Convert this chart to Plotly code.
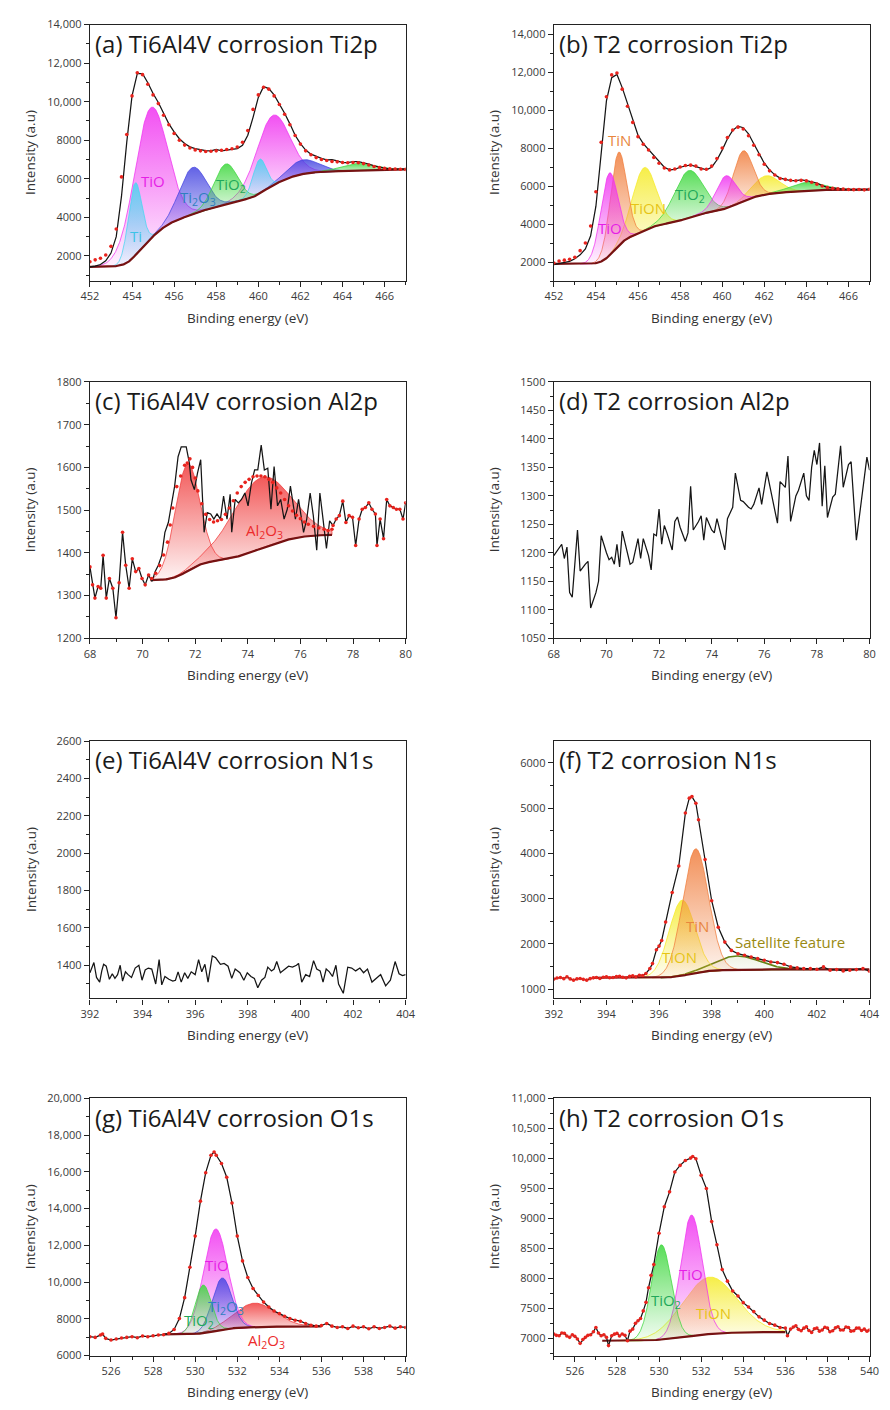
import numpy as np
import plotly.graph_objects as go

# ======================= DATA =======================
# ---- (a) Ti6Al4V corrosion Ti2p ----
A_X = np.linspace(452.0, 467.0, 61)
A_LINE = [1440, 1470, 1560, 1750, 2150, 3000, 5100, 7900, 10300, 11450,
          11450, 10980, 10420, 9960, 9400, 8850, 8430, 8080, 7830, 7660,
          7570, 7520, 7460, 7450, 7520, 7450, 7490, 7520, 7570, 7740,
          8260, 9190, 10220, 10780, 10680, 10350, 9880, 9400, 8850, 8260,
          7830, 7490, 7280, 7150, 7060, 6980, 6990, 6930, 6840, 6840,
          6890, 6890, 6840, 6770, 6670, 6600, 6550, 6520, 6520, 6500,
          6500]
A_DOTS = [1700, 1800, 1880, 2050, 2500, 3400, 6100, 8300, 10300, 11500,
          11400, 10900, 10350, 9900, 9300, 8800, 8350, 8000, 7750, 7600,
          7500, 7450, 7420, 7430, 7450, 7480, 7520, 7560, 7650, 7900,
          8500, 9600, 10350, 10750, 10650, 10300, 9850, 9350, 8800, 8250,
          7800, 7450, 7250, 7100, 7000, 6950, 6900, 6880, 6850, 6830,
          6850, 6830, 6790, 6720, 6640, 6580, 6540, 6520, 6510, 6500,
          6490]
# component: (species, centre eV, peak-top intensity, FWHM eV)
A_PEAKS = [("TiO", 454.87, 9670, 1.85), ("TiO", 460.68, 9280, 1.85),
           ("Ti2O3", 456.88, 6590, 1.5), ("Ti2O3", 462.1, 6980, 1.7),
           ("TiO2", 458.45, 6770, 1.3), ("TiO2", 464.7, 6800, 1.8),
           ("Ti", 454.14, 5780, 0.75), ("Ti", 460.06, 7010, 0.75)]
A_BG_ENDS = (1440, 6490)
A_LABELS = [("TiO", 455.0, 5870, "TiO"), ("Ti", 454.17, 3060, "Ti"),
            ("Ti2O3", 457.12, 5017, "Ti<sub>2</sub>O<sub>3</sub>"),
            ("TiO2", 458.7, 5700, "TiO<sub>2</sub>")]

# ---- (b) T2 corrosion Ti2p ----
B_X = np.linspace(452.0, 467.0, 61)
B_LINE = [1860, 1910, 1965, 2035, 2170, 2380, 2690, 3380, 4940, 7890,
          10480, 11700, 11870, 11180, 10310, 9450, 8670, 8230, 7920, 7580,
          7280, 6990, 6850, 6880, 6990, 7060, 7110, 7020, 6940, 6850,
          6990, 7370, 7890, 8490, 8930, 9150, 9070, 8750, 8230, 7710,
          7200, 6850, 6590, 6420, 6360, 6290, 6290, 6330, 6290, 6240,
          6160, 6020, 5930, 5900, 5860, 5840, 5830, 5810, 5830, 5810,
          5840]
B_DOTS = [1950, 2050, 2100, 2150, 2250, 2600, 3000, 3900, 5700, 8300,
          10700, 11850, 11950, 11100, 10200, 9350, 8600, 8200, 7900, 7500,
          7200, 6950, 6850, 6900, 7000, 7080, 7100, 7050, 6900, 6880,
          7050, 7450, 8000, 8550, 8950, 9100, 9000, 8650, 8150, 7650,
          7150, 6800, 6580, 6400, 6350, 6300, 6280, 6300, 6270, 6200,
          6100, 6000, 5920, 5880, 5850, 5840, 5820, 5810, 5820, 5800,
          5830]
B_PEAKS = [("TiON", 456.29, 6970, 1.3), ("TiON", 462.07, 6540, 1.5),
           ("TiO2", 458.4, 6810, 1.6), ("TiO2", 464.0, 6190, 1.8),
           ("TiN", 455.07, 7770, 0.9), ("TiN", 460.99, 7850, 1.1),
           ("TiO", 454.63, 6675, 0.95), ("TiO", 460.17, 6540, 1.1)]
B_BG_ENDS = (1900, 5810)
B_LABELS = [("TiN", 455.1, 8400, "TiN"), ("TiON", 456.5, 4860, "TiON"),
            ("TiO2", 458.46, 5550, "TiO<sub>2</sub>"), ("TiO", 454.68, 3770, "TiO")]

# ---- (c) Ti6Al4V corrosion Al2p ----
C_X = [68.0, 68.1, 68.19, 68.31, 68.41, 68.5, 68.62, 68.74, 68.87, 68.99,
       69.11, 69.24, 69.36, 69.49, 69.61, 69.74, 69.86, 69.98, 70.1, 70.23,
       70.36, 70.48, 70.6, 70.73, 70.85, 70.98, 71.1, 71.22, 71.35, 71.47,
       71.66, 71.78, 71.84, 71.97, 72.09, 72.21, 72.34, 72.46, 72.59, 72.71,
       72.83, 72.96, 73.08, 73.21, 73.33, 73.39, 73.52, 73.64, 73.76, 73.89,
       74.01, 74.14, 74.26, 74.38, 74.51, 74.63, 74.76, 74.88, 75.0, 75.13,
       75.25, 75.38, 75.5, 75.62, 75.81, 75.93, 76.12, 76.24, 76.37, 76.49,
       76.62, 76.74, 76.86, 76.99, 77.11, 77.24, 77.36, 77.48, 77.61, 77.73,
       77.85, 77.98, 78.1, 78.23, 78.35, 78.47, 78.6, 78.72, 78.85, 78.91,
       79.03, 79.16, 79.28, 79.4, 79.53, 79.65, 79.78, 79.9, 80.0]
C_LINE = [1367, 1325, 1294, 1321, 1317, 1394, 1294, 1340, 1317, 1248,
          1330, 1448, 1371, 1317, 1386, 1356, 1363, 1340, 1325, 1348,
          1333, 1356, 1371, 1394, 1448, 1471, 1510, 1556, 1625, 1648,
          1648, 1610, 1571, 1548, 1587, 1618, 1448, 1494, 1491, 1479,
          1491, 1479, 1533, 1479, 1537, 1448, 1525, 1517, 1525, 1540,
          1510, 1564, 1594, 1594, 1652, 1594, 1598, 1502, 1602, 1510,
          1525, 1479, 1502, 1556, 1479, 1525, 1448, 1479, 1540, 1487,
          1406, 1540, 1479, 1410, 1475, 1464, 1479, 1487, 1521, 1471,
          1487, 1483, 1417, 1479, 1502, 1506, 1517, 1502, 1491, 1417,
          1479, 1433, 1525, 1510, 1506, 1502, 1502, 1479, 1517]
C_FIT_DOT_X = [70.35, 70.5, 70.65, 70.8, 70.95, 71.05, 71.15, 71.3, 71.45, 71.6,
               71.7, 71.8, 71.9, 72.0, 72.1, 72.25, 72.4, 72.55, 72.7, 72.85,
               73.0, 73.15, 73.3, 73.45, 73.6, 73.75, 73.9, 74.05, 74.2, 74.35,
               74.5, 74.65, 74.8, 74.95, 75.1, 75.25, 75.4, 75.55, 75.7, 75.85,
               76.0, 76.15, 76.3, 76.5, 76.7, 76.9, 77.05, 77.2]
C_FIT_DOT_Y = [1340, 1352, 1370, 1395, 1425, 1465, 1505, 1555, 1580, 1605,
               1610, 1620, 1600, 1575, 1545, 1515, 1490, 1478, 1472, 1475,
               1478, 1490, 1505, 1522, 1540, 1555, 1565, 1572, 1578, 1580,
               1580, 1578, 1572, 1565, 1552, 1540, 1525, 1510, 1498, 1488,
               1480, 1472, 1467, 1462, 1458, 1455, 1452, 1455]
C_FIT_RANGE = (70.3, 77.2)
C_PEAKS = [("Al", 71.7, 1608, 1.1), ("Al2O3", 74.5, 1576, 2.6)]
C_BG_ENDS = (1336, 1442)
C_LABELS = [("Al2O3", 74.63, 1452, "Al<sub>2</sub>O<sub>3</sub>")]

# ---- (d) T2 corrosion Al2p ----
D_X = [68.0, 68.2, 68.3, 68.4, 68.5, 68.6, 68.7, 68.9, 69.0, 69.2,
       69.3, 69.4, 69.6, 69.7, 69.8, 70.0, 70.1, 70.2, 70.3, 70.4,
       70.5, 70.6, 70.8, 70.9, 71.0, 71.2, 71.3, 71.4, 71.6, 71.7,
       71.8, 71.9, 72.0, 72.1, 72.2, 72.3, 72.5, 72.6, 72.7, 72.8,
       73.0, 73.1, 73.2, 73.3, 73.5, 73.6, 73.7, 73.8, 74.0, 74.1,
       74.2, 74.5, 74.6, 74.8, 74.9, 75.1, 75.2, 75.4, 75.5, 75.6,
       75.8, 75.9, 76.1, 76.2, 76.5, 76.6, 76.8, 76.9, 77.0, 77.2,
       77.3, 77.5, 77.6, 77.7, 77.8, 77.9, 78.0, 78.1, 78.2, 78.3,
       78.4, 78.6, 78.7, 78.9, 79.0, 79.2, 79.3, 79.5, 79.7, 79.9,
       80.0]
D_LINE = [1195, 1210, 1215, 1190, 1210, 1130, 1122, 1240, 1168, 1180,
          1185, 1103, 1130, 1150, 1230, 1200, 1188, 1192, 1180, 1215,
          1175, 1238, 1200, 1180, 1183, 1225, 1190, 1225, 1195, 1170,
          1233, 1230, 1277, 1215, 1248, 1235, 1205, 1255, 1263, 1245,
          1220, 1235, 1317, 1240, 1255, 1265, 1222, 1262, 1240, 1235,
          1260, 1205, 1260, 1280, 1340, 1292, 1290, 1280, 1277, 1285,
          1314, 1285, 1342, 1320, 1252, 1325, 1315, 1370, 1255, 1300,
          1310, 1340, 1300, 1292, 1350, 1380, 1355, 1393, 1282, 1353,
          1262, 1298, 1303, 1388, 1315, 1355, 1360, 1222, 1300, 1368,
          1345]

# ---- (e) Ti6Al4V corrosion N1s ----
E_X = [392.0, 392.08, 392.15, 392.25, 392.37, 392.45, 392.52, 392.62, 392.74, 392.85,
       392.95, 393.05, 393.15, 393.24, 393.35, 393.45, 393.58, 393.72, 393.86, 393.98,
       394.1, 394.22, 394.35, 394.5, 394.63, 394.73, 394.85, 395.0, 395.15, 395.25,
       395.35, 395.47, 395.6, 395.72, 395.85, 396.0, 396.13, 396.25, 396.37, 396.49,
       396.65, 396.78, 396.96, 397.1, 397.25, 397.39, 397.52, 397.7, 397.85, 397.98,
       398.12, 398.25, 398.38, 398.52, 398.65, 398.76, 398.9, 399.0, 399.1, 399.24,
       399.4, 399.55, 399.7, 399.85, 399.93, 400.05, 400.2, 400.35, 400.5, 400.62,
       400.75, 400.86, 400.98, 401.1, 401.22, 401.35, 401.45, 401.63, 401.8, 401.95,
       402.1, 402.26, 402.4, 402.55, 402.72, 402.88, 403.05, 403.24, 403.42, 403.6,
       403.75, 403.88, 404.0]
E_LINE = [1360, 1395, 1415, 1335, 1310, 1370, 1405, 1395, 1325, 1355,
          1330, 1350, 1400, 1315, 1365, 1350, 1335, 1385, 1400, 1320,
          1375, 1385, 1380, 1300, 1430, 1295, 1340, 1325, 1315, 1320,
          1365, 1310, 1360, 1330, 1365, 1350, 1430, 1365, 1405, 1310,
          1450, 1440, 1405, 1410, 1395, 1330, 1380, 1360, 1320, 1360,
          1340, 1330, 1280, 1320, 1335, 1390, 1370, 1380, 1420, 1360,
          1380, 1395, 1390, 1400, 1410, 1310, 1350, 1340, 1425, 1380,
          1370, 1310, 1380, 1365, 1340, 1400, 1300, 1250, 1390, 1385,
          1370, 1385, 1360, 1380, 1310, 1330, 1350, 1290, 1320, 1420,
          1355, 1345, 1350]

# ---- (f) T2 corrosion N1s ----
F_X = [392.0, 392.12, 392.25, 392.38, 392.5, 392.62, 392.75, 392.88, 393.0, 393.12,
       393.25, 393.38, 393.5, 393.62, 393.75, 393.88, 394.0, 394.12, 394.25, 394.38,
       394.5, 394.62, 394.75, 394.88, 395.0, 395.12, 395.25, 395.38, 395.5, 395.65,
       395.75, 395.9, 396.0, 396.1, 396.25, 396.5, 396.75, 397.0, 397.15, 397.25,
       397.4, 397.5, 397.75, 398.0, 398.25, 398.5, 398.75, 399.0, 399.25, 399.5,
       399.75, 400.0, 400.25, 400.5, 400.75, 401.0, 401.25, 401.5, 401.75, 402.0,
       402.25, 402.5, 402.75, 403.0, 403.25, 403.5, 403.75, 404.0]
F_LINE = [1220, 1245, 1256, 1230, 1270, 1225, 1197, 1225, 1234, 1215,
          1197, 1230, 1248, 1255, 1234, 1262, 1270, 1250, 1256, 1275,
          1285, 1262, 1248, 1280, 1292, 1270, 1307, 1300, 1344, 1453,
          1563, 1870, 1950, 2075, 2480, 3135, 3720, 4890, 5220, 5254,
          5108, 4743, 3865, 2952, 2367, 2038, 1855, 1782, 1746, 1709,
          1672, 1636, 1599, 1585, 1548, 1490, 1468, 1453, 1453, 1439,
          1490, 1417, 1431, 1402, 1417, 1431, 1453, 1395]
F_PEAKS = [("Sat", 398.95, 1731, 2.0), ("TiON", 396.87, 2966, 1.15),
           ("TiN", 397.39, 4100, 1.15)]
F_BG_ENDS = (1250, 1435)
F_FIT_RANGE = (393.5, 404.0)
F_LABELS = [("TiN", 397.45, 2400, "TiN"), ("TiON", 396.77, 1710, "TiON"),
            ("Sat", 400.96, 2040, "Satellite feature")]

# ---- (g) Ti6Al4V corrosion O1s ----
G_X = [525.0, 525.25, 525.5, 525.6, 525.75, 526.0, 526.25, 526.5, 526.75, 527.0,
       527.25, 527.5, 527.75, 528.0, 528.25, 528.5, 528.75, 529.0, 529.25, 529.5,
       529.75, 530.0, 530.25, 530.5, 530.75, 530.9, 531.0, 531.25, 531.5, 531.75,
       532.0, 532.25, 532.5, 532.75, 533.0, 533.25, 533.5, 533.75, 534.0, 534.25,
       534.5, 534.75, 535.0, 535.25, 535.5, 535.75, 536.0, 536.25, 536.5, 536.75,
       537.0, 537.25, 537.5, 537.75, 538.0, 538.25, 538.5, 538.75, 539.0, 539.25,
       539.5, 539.75, 540.0]
G_LINE = [7023, 6987, 7113, 7167, 6933, 6844, 6897, 6951, 6987, 7023,
          6969, 7059, 7023, 7077, 7113, 7131, 7203, 7418, 8010, 9150,
          10800, 12500, 14400, 15950, 16896, 17075, 16900, 16450, 15700, 14300,
          12500, 11150, 10250, 9650, 9267, 8908, 8639, 8423, 8280, 8136,
          8010, 7921, 7867, 7741, 7651, 7598, 7633, 7741, 7598, 7526,
          7562, 7472, 7598, 7508, 7562, 7454, 7562, 7472, 7526, 7598,
          7490, 7562, 7526]
G_PEAKS = [("Al2O3", 532.83, 8850, 2.3), ("TiO", 530.97, 12890, 1.35),
           ("Ti2O3", 531.28, 10220, 1.1), ("TiO2", 530.38, 9840, 0.9)]
G_BG_ENDS = (7150, 7580)
G_FIT_RANGE = (528.5, 536.0)
G_LABELS = [("TiO", 531.04, 10920, "TiO"), ("Ti2O3", 531.45, 8620, "Ti<sub>2</sub>O<sub>3</sub>"),
            ("TiO2", 530.2, 7860, "TiO<sub>2</sub>"), ("Al2O3", 533.37, 6810, "Al<sub>2</sub>O<sub>3</sub>")]

# ---- (h) T2 corrosion O1s ----
H_X = [525.0, 525.12, 525.25, 525.38, 525.5, 525.62, 525.75, 525.88, 526.0, 526.12,
       526.25, 526.38, 526.5, 526.62, 526.75, 526.88, 527.0, 527.12, 527.25, 527.38,
       527.5, 527.6, 527.75, 527.88, 528.0, 528.12, 528.25, 528.38, 528.5, 528.62,
       528.75, 528.88, 529.0, 529.12, 529.25, 529.38, 529.5, 529.62, 529.75, 530.0,
       530.25, 530.5, 530.75, 531.0, 531.25, 531.5, 531.6, 531.75, 532.0, 532.25,
       532.5, 532.75, 533.0, 533.25, 533.5, 533.75, 534.0, 534.25, 534.5, 534.75,
       535.0, 535.25, 535.5, 535.75, 536.0, 536.1, 536.25, 536.38, 536.5, 536.62,
       536.75, 536.88, 537.0, 537.12, 537.25, 537.38, 537.5, 537.62, 537.75, 537.88,
       538.0, 538.12, 538.25, 538.38, 538.5, 538.62, 538.75, 538.88, 539.0, 539.12,
       539.25, 539.38, 539.5, 539.62, 539.75, 539.88, 540.0]
H_LINE = [7072, 7050, 7044, 7090, 7083, 7040, 7017, 7060, 7033, 6990,
          6917, 6980, 7017, 7050, 7061, 7110, 7182, 7090, 7044, 7060,
          7017, 6879, 7044, 7070, 7083, 7040, 7072, 7050, 6961, 7120,
          7154, 7250, 7292, 7330, 7457, 7600, 7843, 8050, 8229, 8752,
          9193, 9441, 9772, 9882, 9964, 10003, 10031, 9992, 9716, 9496,
          8945, 8559, 8146, 7953, 7788, 7705, 7595, 7523, 7446, 7358,
          7303, 7248, 7220, 7182, 7171, 7044, 7154, 7190, 7209, 7150,
          7127, 7170, 7193, 7130, 7099, 7160, 7171, 7120, 7138, 7185,
          7171, 7110, 7127, 7175, 7193, 7140, 7138, 7190, 7182, 7120,
          7127, 7170, 7171, 7130, 7154, 7120, 7138]
H_PEAKS = [("TiON", 532.4, 8020, 3.0), ("TiO", 531.54, 9055, 1.2),
           ("TiO2", 530.11, 8560, 1.1)]
H_BG_ENDS = (6960, 7105)
H_FIT_RANGE = (527.3, 536.0)
H_LABELS = [("TiO", 531.54, 8075, "TiO"), ("TiO2", 530.32, 7625, "TiO<sub>2</sub>"),
            ("TiON", 532.59, 7415, "TiON")]

# ---- axis ticks ----
TI2P_XTICKS = [452, 454, 456, 458, 460, 462, 464, 466]
AL2P_XTICKS = [68, 70, 72, 74, 76, 78, 80]
N1S_XTICKS = [392, 394, 396, 398, 400, 402, 404]
O1S_XTICKS = [526, 528, 530, 532, 534, 536, 538, 540]
A_YTICKS = [2000, 4000, 6000, 8000, 10000, 12000, 14000]
B_YTICKS = [2000, 4000, 6000, 8000, 10000, 12000, 14000]
C_YTICKS = [1200, 1300, 1400, 1500, 1600, 1700, 1800]
D_YTICKS = [1050, 1100, 1150, 1200, 1250, 1300, 1350, 1400, 1450, 1500]
E_YTICKS = [1400, 1600, 1800, 2000, 2200, 2400, 2600]
F_YTICKS = [1000, 2000, 3000, 4000, 5000, 6000]
G_YTICKS = [6000, 8000, 10000, 12000, 14000, 16000, 18000, 20000]
H_YTICKS = [7000, 7500, 8000, 8500, 9000, 9500, 10000, 10500, 11000]

# ======================= STYLE =======================
FILL_RGB = {"Ti": (70, 215, 240), "TiO": (240, 50, 240), "Ti2O3": (70, 70, 225),
            "TiO2": (60, 215, 60), "TiN": (240, 125, 60), "TiON": (245, 235, 40),
            "Al": (240, 60, 60), "Al2O3": (240, 60, 60), "Sat": (120, 150, 30)}
LABEL_COL = {"Ti": "#3cc3e6", "TiO": "#e61ee6", "Ti2O3": "#2f7fbf", "TiO2": "#22a85a",
             "TiN": "#e8863e", "TiON": "#e6c416", "Al2O3": "#ec2c2c", "Sat": "#9a8a12"}
FONT = "Open Sans"
W, H = 890, 1410
COLS = {"L": (82.7, 405.3), "R": (556.7, 879.3)}
ROWS = [(16.7, 276.0), (378.0, 637.0), (741.0, 1001.0), (1102.0, 1362.0)]

PANELS = [
    dict(t="(a) Ti6Al4V corrosion Ti2p", col="L", row=0, xr=(452, 467), yr=(700, 14000),
         xt=TI2P_XTICKS, yt=A_YTICKS, lx=A_X, ly=A_LINE, dx=A_X, dy=A_DOTS,
         peaks=A_PEAKS, bg=A_BG_ENDS, fr=(452, 467), labels=A_LABELS),
    dict(t="(b) T2 corrosion Ti2p", col="R", row=0, xr=(452, 467), yr=(1000, 14500),
         xt=TI2P_XTICKS, yt=B_YTICKS, lx=B_X, ly=B_LINE, dx=B_X, dy=B_DOTS,
         peaks=B_PEAKS, bg=B_BG_ENDS, fr=(452, 467), labels=B_LABELS),
    dict(t="(c) Ti6Al4V corrosion Al2p", col="L", row=1, xr=(68, 80), yr=(1200, 1800),
         xt=AL2P_XTICKS, yt=C_YTICKS, lx=C_X, ly=C_LINE, dx=None, dy=None,
         peaks=C_PEAKS, bg=C_BG_ENDS, fr=C_FIT_RANGE, labels=C_LABELS),
    dict(t="(d) T2 corrosion Al2p", col="R", row=1, xr=(68, 80), yr=(1050, 1500),
         xt=AL2P_XTICKS, yt=D_YTICKS, lx=D_X, ly=D_LINE, dx=None, dy=None,
         peaks=None, labels=[]),
    dict(t="(e) Ti6Al4V corrosion N1s", col="L", row=2, xr=(392, 404), yr=(1223, 2600),
         xt=N1S_XTICKS, yt=E_YTICKS, lx=E_X, ly=E_LINE, dx=None, dy=None,
         peaks=None, labels=[]),
    dict(t="(f) T2 corrosion N1s", col="R", row=2, xr=(392, 404), yr=(795, 6480),
         xt=N1S_XTICKS, yt=F_YTICKS, lx=F_X, ly=F_LINE, dx=F_X, dy=F_LINE,
         peaks=F_PEAKS, bg=F_BG_ENDS, fr=F_FIT_RANGE, labels=F_LABELS),
    dict(t="(g) Ti6Al4V corrosion O1s", col="L", row=3, xr=(525, 540), yr=(6000, 20000),
         xt=O1S_XTICKS, yt=G_YTICKS, lx=G_X, ly=G_LINE, dx=G_X, dy=G_LINE,
         peaks=G_PEAKS, bg=G_BG_ENDS, fr=G_FIT_RANGE, labels=G_LABELS),
    dict(t="(h) T2 corrosion O1s", col="R", row=3, xr=(525, 540), yr=(6714, 11000),
         xt=O1S_XTICKS, yt=H_YTICKS, lx=H_X, ly=H_LINE, dx=H_X, dy=H_LINE,
         peaks=H_PEAKS, bg=H_BG_ENDS, fr=H_FIT_RANGE, labels=H_LABELS),
]


def rgba(c, a):
    return f"rgba({c[0]},{c[1]},{c[2]},{a})"


def gauss(x, c, w):
    return np.exp(-4.0 * np.log(2.0) * ((x - c) / w) ** 2)


def build_fit(fr, peaks, ends, n=800):
    """Shirley background + Gaussian components that reach the read peak tops."""
    x = np.linspace(fr[0], fr[1], n)
    lo, hi = ends
    bg = lo + (hi - lo) * (x - x[0]) / (x[-1] - x[0])
    comps = []
    for _ in range(40):
        amps = [top - np.interp(c, x, bg) for (_, c, top, w) in peaks]
        comps = [a * gauss(x, c, w) for a, (_, c, top, w) in zip(amps, peaks)]
        tot = np.sum(comps, axis=0)
        cum = np.concatenate([[0.0], np.cumsum(0.5 * (tot[1:] + tot[:-1]) * np.diff(x))])
        bg = lo + (hi - lo) * cum / cum[-1]
    return x, bg, comps


def fmt(v):
    return f"{v:,}" if v >= 10000 else str(v)


def minors(ticks, rng):
    step = ticks[1] - ticks[0]
    out = []
    v = ticks[0] - step / 2
    while v <= rng[1] + 1e-9:
        if v >= rng[0] - 1e-9:
            out.append(v)
        v += step
    return out


fig = go.Figure()
annotations = []
layout = {}

for i, p in enumerate(PANELS, start=1):
    xa = "x" if i == 1 else f"x{i}"
    ya = "y" if i == 1 else f"y{i}"
    xk = "xaxis" if i == 1 else f"xaxis{i}"
    yk = "yaxis" if i == 1 else f"yaxis{i}"
    x0, x1 = COLS[p["col"]]
    t0, t1 = ROWS[p["row"]]

    if p["peaks"]:
        xf, bg, comps = build_fit(p["fr"], p["peaks"], p["bg"])
        for (name, c, top, w), comp in zip(p["peaks"], comps):
            m = comp > comp.max() * 0.003
            xs = xf[m]
            upper = bg[m] + comp[m]
            lower = bg[m]
            col = FILL_RGB[name]
            if name == "Sat":
                grad = [[0, rgba(col, 0.0)], [1, rgba(col, 0.12)]]
                lc, lw = "rgba(100,130,20,1)", 1.6
            else:
                grad = [[0, rgba(col, 0.06)], [1, rgba(col, 0.85)]]
                lc, lw = rgba(col, 0.75), 1.0
            fig.add_trace(go.Scatter(
                x=np.concatenate([xs, xs[::-1]]), y=np.concatenate([upper, lower[::-1]]),
                mode="lines", fill="toself", line=dict(color=lc, width=lw),
                fillgradient=dict(type="vertical", colorscale=grad),
                hoverinfo="skip", xaxis=xa, yaxis=ya))
        fig.add_trace(go.Scatter(x=xf, y=bg, mode="lines",
                                 line=dict(color="#761212", width=2.2),
                                 hoverinfo="skip", xaxis=xa, yaxis=ya))

    fig.add_trace(go.Scatter(x=p["lx"], y=p["ly"], mode="lines",
                             line=dict(color="#151515", width=1.25),
                             hoverinfo="skip", xaxis=xa, yaxis=ya))

    if p["t"].startswith("(c)"):
        lo_, hi_ = C_FIT_RANGE
        out_x = [xv for xv in C_X if xv < lo_ or xv > hi_]
        out_y = [yv for xv, yv in zip(C_X, C_LINE) if xv < lo_ or xv > hi_]
        fig.add_trace(go.Scatter(x=out_x + C_FIT_DOT_X, y=out_y + C_FIT_DOT_Y, mode="markers",
                                 marker=dict(color="#e8231d", size=3.6),
                                 hoverinfo="skip", xaxis=xa, yaxis=ya))
    elif p["dx"] is not None:
        fig.add_trace(go.Scatter(x=p["dx"], y=p["dy"], mode="markers",
                                 marker=dict(color="#e8231d", size=3.6),
                                 hoverinfo="skip", xaxis=xa, yaxis=ya))

    axis_common = dict(showgrid=False, zeroline=False, showline=True, mirror=True,
                       linecolor="#222", linewidth=1.3, ticks="outside", ticklen=5,
                       tickwidth=1.2, tickcolor="#222",
                       tickfont=dict(family=FONT, size=11, color="#3a3a3a"))
    layout[xk] = dict(axis_common, domain=[x0 / W, x1 / W], range=list(p["xr"]),
                      anchor=ya, tickmode="array", tickvals=p["xt"],
                      ticktext=[str(v) for v in p["xt"]],
                      minor=dict(tickmode="array", tickvals=minors(p["xt"], p["xr"]),
                                 ticks="outside", ticklen=3, tickwidth=1, tickcolor="#222"))
    layout[yk] = dict(axis_common, domain=[1 - t1 / H, 1 - t0 / H], range=list(p["yr"]),
                      anchor=xa, tickmode="array", tickvals=p["yt"],
                      ticktext=[fmt(v) for v in p["yt"]],
                      minor=dict(tickmode="array", tickvals=minors(p["yt"], p["yr"]),
                                 ticks="outside", ticklen=3, tickwidth=1, tickcolor="#222"))

    ph = t1 - t0
    pw = x1 - x0
    annotations.append(dict(text=p["t"], xref=f"{xa} domain", yref=f"{ya} domain",
                            x=3.5 / pw, y=1 - 19.0 / ph, xanchor="left", yanchor="middle",
                            showarrow=False, font=dict(family=FONT, size=24, color="#1a1a1a")))
    annotations.append(dict(text="Binding energy (eV)", xref=f"{xa} domain", yref=f"{ya} domain",
                            x=0.5, y=-37.0 / ph, xanchor="center", yanchor="middle",
                            showarrow=False, font=dict(family=FONT, size=13.5, color="#333")))
    annotations.append(dict(text="Intensity (a.u)", xref=f"{xa} domain", yref=f"{ya} domain",
                            x=-61.0 / pw, y=0.5, xanchor="center", yanchor="middle",
                            textangle=-90, showarrow=False,
                            font=dict(family=FONT, size=13.5, color="#333")))
    for (name, lxv, lyv, txt) in p["labels"]:
        annotations.append(dict(text=txt, x=lxv, y=lyv, xref=xa, yref=ya,
                                xanchor="center", yanchor="middle", showarrow=False,
                                font=dict(family=FONT, size=15, color=LABEL_COL[name])))

fig.update_layout(width=W, height=H, margin=dict(l=0, r=0, t=0, b=0),
                  paper_bgcolor="white", plot_bgcolor="white", showlegend=False,
                  hovermode=False,
                  font=dict(family=FONT, color="#333"), annotations=annotations, **layout)

# remove the default page margin so the figure sits at the window's top-left corner
fig.write_html("out.html", config={"displayModeBar": False},
               post_script="document.body.style.margin='0';document.body.style.overflow='hidden';")
